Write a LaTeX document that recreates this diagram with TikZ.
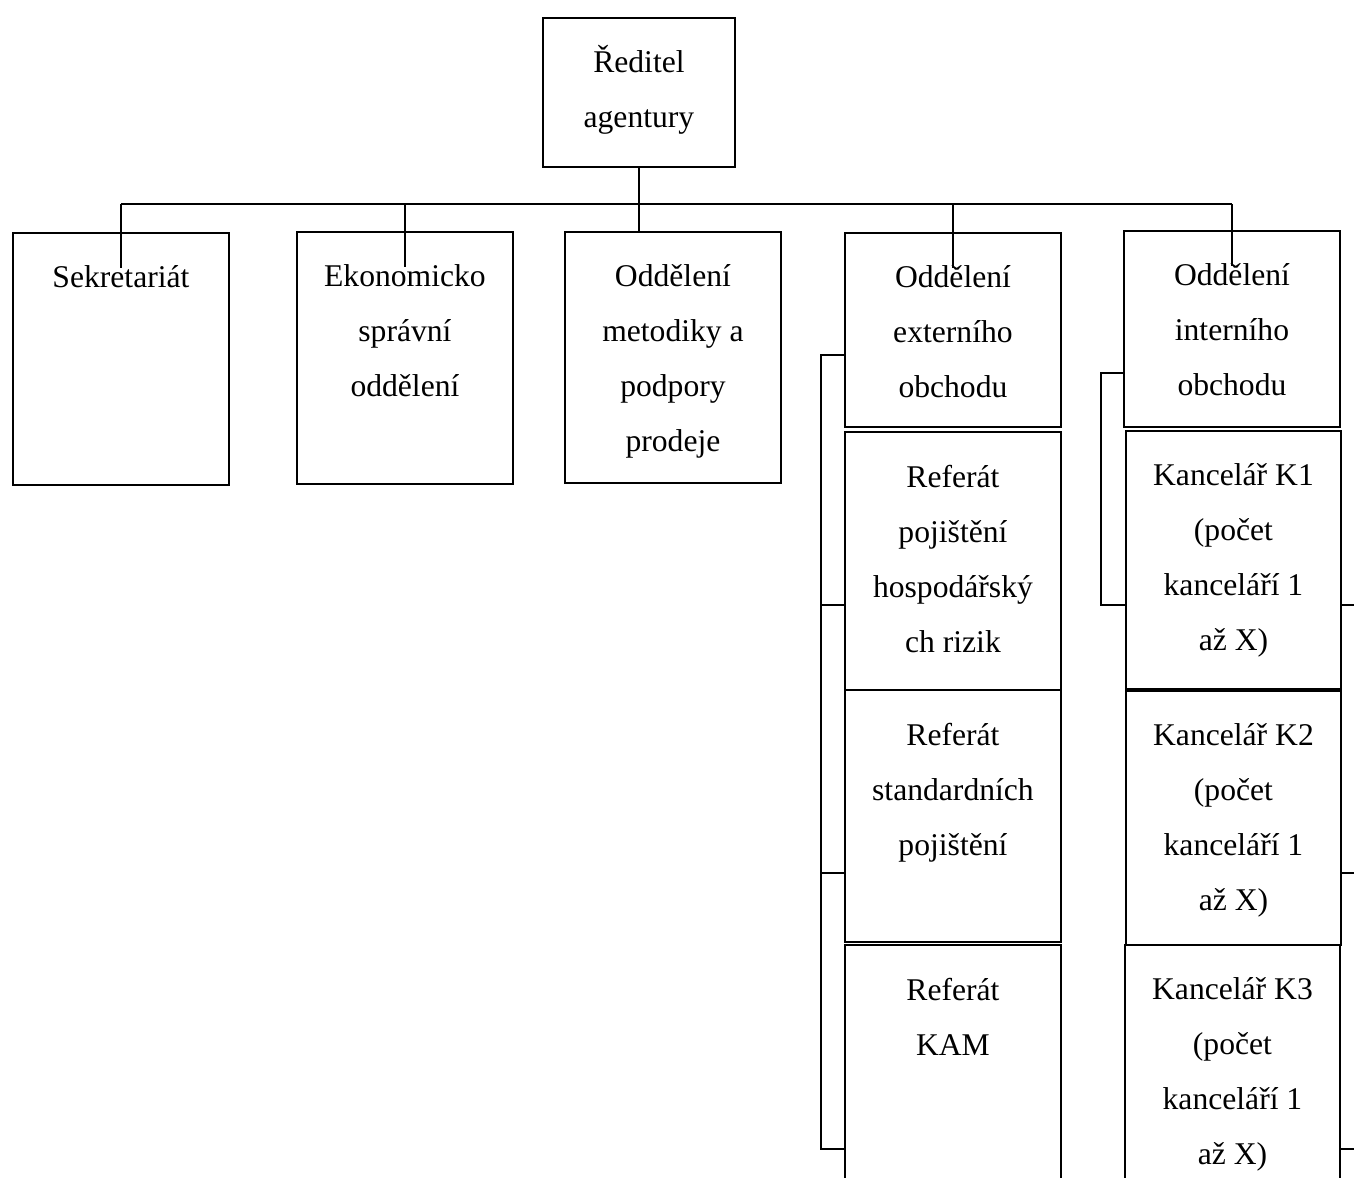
\documentclass[tikz,border=0pt]{standalone}
\usepackage{fontspec}
\setmainfont{Liberation Serif}
\usetikzlibrary{positioning}

\newcommand{\unitfont}{\fontsize{18pt}{31.3pt}\selectfont}

\begin{document}
\begin{tikzpicture}[x=0.02cm,y=-0.02cm,line width=0.9pt,
  unit/.style 2 args={draw,line width=1.1pt,anchor=north west,inner sep=0pt,
    minimum width=#1,minimum height=#2},
  txt/.style={font=\unitfont,align=center,anchor=north,inner sep=0pt,yshift=-0.66cm}]
\useasboundingbox (0,0) rectangle (1354,1177);
\clip (0,0) rectangle (1354,1177);
% ---------- top ----------
\node[unit={3.84cm}{2.98cm},label={[txt,yshift=0.1cm]north:Ředitel\\agentury}] (dir) at (542,17) {};
% ---------- first row ----------
\node[unit={4.32cm}{5.04cm},label={[txt]north:Sekretariát}] (sek) at (12,232) {};
\node[unit={4.32cm}{5.04cm},label={[txt]north:Ekonomicko\\správní\\oddělení}] (ekon) at (296,231) {};
\node[unit={4.32cm}{5.02cm},label={[txt]north:Oddělení\\metodiky a\\podpory\\prodeje}] (met) at (564,231) {};
\node[unit={4.32cm}{3.88cm},label={[txt]north:Oddělení\\externího\\obchodu}] (ext) at (844,232) {};
\node[unit={4.32cm}{3.92cm},label={[txt]north:Oddělení\\interního\\obchodu}] (int) at (1123,230) {};
% ---------- externi obchod ----------
\node[unit={4.32cm}{5.16cm},label={[txt]north:Referát\\pojištění\\hospodářský\\ch rizik}] (ref1) at (844,431) {};
\node[unit={4.32cm}{5.04cm},label={[txt]north:Referát\\standardních\\pojištění}] (ref2) at (844,689) {};
\node[unit={4.32cm}{5.4cm},label={[txt]north:Referát\\KAM}] (ref3) at (844,944) {};
% ---------- interni obchod ----------
\node[unit={4.3cm}{5.16cm},label={[txt]north:Kancelář K1\\(počet\\kanceláří 1\\až X)}] (k1) at (1125,430) {};
\node[unit={4.3cm}{5.08cm},label={[txt]north:Kancelář K2\\(počet\\kanceláří 1\\až X)}] (k2) at (1125,690) {};
\node[unit={4.3cm}{5.4cm},label={[txt]north:Kancelář K3\\(počet\\kanceláří 1\\až X)}] (k3) at (1124,944) {};
% ---------- connectors ----------
\coordinate (bus) at (0,204);
\draw (dir.south) -- (dir.south |- met.north);
\draw (sek.north |- bus) -- (int.north |- bus);
\foreach \n in {sek,ekon,ext,int}
  \draw (\n.north |- bus) -- ([yshift=-0.72cm]\n.north);
% brackets
\coordinate (e1) at (821,355);
\coordinate (e2) at (821,605);
\coordinate (e3) at (821,873);
\coordinate (e4) at (821,1149);
\draw (e1 -| ext.west) -- (e1) -- (e4) -- (e4 -| ref3.west);
\draw (e2) -- (e2 -| ref1.west);
\draw (e3) -- (e3 -| ref2.west);
\coordinate (i1) at (1101,373);
\coordinate (i2) at (1101,605);
\draw (i1 -| int.west) -- (i1) -- (i2) -- (i2 -| k1.west);
\coordinate (r1) at (1360,605);
\coordinate (r2) at (1360,873);
\coordinate (r3) at (1360,1149);
\draw (k1.east |- r1) -- (r1);
\draw (k2.east |- r2) -- (r2);
\draw (k3.east |- r3) -- (r3);
\end{tikzpicture}
\end{document}
